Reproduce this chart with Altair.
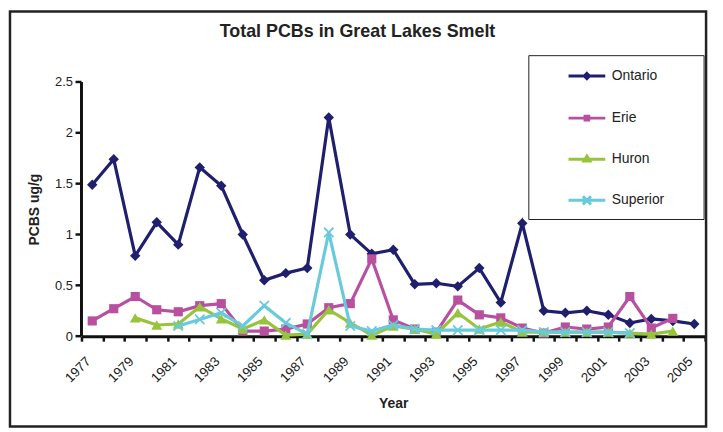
import altair as alt
import pandas as pd

years = list(range(1977, 2006))
lakes = ["Ontario", "Erie", "Huron", "Superior"]
ontario = [1.49, 1.74, 0.79, 1.12, 0.90, 1.66, 1.48, 1.00, 0.55, 0.62, 0.67, 2.15, 1.00, 0.81, 0.85,
           0.51, 0.52, 0.49, 0.67, 0.33, 1.11, 0.25, 0.23, 0.25, 0.21, 0.13, 0.17, 0.15, 0.12]
erie = [0.15, 0.27, 0.39, 0.26, 0.24, 0.30, 0.32, 0.05, 0.05, 0.07, 0.12, 0.28, 0.32, 0.76, 0.16,
        0.07, 0.04, 0.355, 0.21, 0.18, 0.08, 0.03, 0.09, 0.07, 0.09, 0.39, 0.08, 0.175, None]
huron = [None, None, 0.18, 0.11, 0.12, 0.29, 0.17, 0.07, 0.16, 0.01, 0.02, 0.26, 0.13, 0.01, 0.10,
         0.07, 0.02, 0.23, 0.07, 0.14, 0.04, 0.04, 0.04, 0.04, 0.04, 0.03, 0.02, 0.05, None]
superior = [None, None, None, None, 0.10, 0.165, 0.23, 0.10, 0.30, 0.13, 0.02, 1.02, 0.10, 0.05, 0.11,
            0.07, 0.06, 0.06, 0.06, 0.06, 0.06, 0.04, 0.04, 0.04, 0.04, 0.03, None, None, None]
colors = ["#1f1f6e", "#b8509f", "#98c43c", "#68cadb"]
y_ticks = [0, 0.5, 1, 1.5, 2, 2.5]
label_years = list(range(1977, 2006, 2))

series = {"Ontario": ontario, "Erie": erie, "Huron": huron, "Superior": superior}
rows = []
for lake in lakes:
    for yr, v in zip(years, series[lake]):
        if v is not None:
            rows.append({"Year": yr, "Value": v, "Lake": lake})
df = pd.DataFrame(rows)

FONT = "Liberation Sans"
W, H = 628, 256

xscale = alt.Scale(domain=[1976.5, 2005.5], nice=False, zero=False)
yscale = alt.Scale(domain=[0, 2.5], nice=False)
cscale = alt.Scale(domain=lakes, range=colors)

# tick marks sit between the years (category boundaries); labels on odd years
tick_axis = alt.Axis(orient="bottom", values=[y - 0.5 for y in years] + [2005.5],
                     labels=False, ticks=True, tickSize=5, tickWidth=2.5, tickColor="#111",
                     domain=True, domainWidth=3, domainColor="#111", grid=False, title=None)
label_axis = alt.Axis(orient="bottom", values=label_years, ticks=False, domain=False, grid=False,
                      labelAngle=315, labelAlign="right", labelBaseline="top",
                      labelPadding=18, labelOffset=-9, labelFontSize=13.5, labelFont=FONT,
                      labelColor="#222", labelOverlap=False, labelFlush=False, labelBound=False,
                      format="d", title="Year", titleFont=FONT, titleFontSize=14,
                      titleFontWeight="bold", titleColor="#222", titleY=68,
                      titleBaseline="middle")
y_label_axis = alt.Axis(orient="left", values=y_ticks, format="~g", domain=False, ticks=False,
                        grid=False, labelFontSize=13, labelFont=FONT, labelColor="#222",
                        labelPadding=9, title="PCBS ug/g", titleFont=FONT, titleFontSize=14,
                        titleFontWeight="bold", titleColor="#222", titleX=-47,
                        titleBaseline="middle")

shape_marks = {
    "Ontario": dict(shape="diamond", size=110, filled=True),
    "Erie": dict(shape="square", size=85, filled=True),
    "Huron": dict(shape="triangle-up", size=120, filled=True),
    "Superior": dict(shape="M-1,-1L1,1M-1,1L1,-1", size=90, filled=False, strokeWidth=1.8),
}

base = alt.Chart(df)
layers = []
for i, lake in enumerate(lakes):
    sub = base.transform_filter(alt.datum.Lake == lake)
    line = sub.mark_line(strokeWidth=3.2, color=colors[i]).encode(
        x=alt.X("Year:Q", scale=xscale, axis=tick_axis if i == 0 else None),
        y=alt.Y("Value:Q", scale=yscale, axis=None),
    )
    pts = sub.mark_point(opacity=1, color=colors[i], **shape_marks[lake]).encode(
        x=alt.X("Year:Q", scale=xscale, axis=label_axis if i == 0 else None),
        y=alt.Y("Value:Q", scale=yscale, axis=y_label_axis if i == 0 else None),
    )
    layers += [line, pts]

# y axis line and its tick marks, placed through the y scale
ytick_df = pd.DataFrame({"v": y_ticks})
y_domain_line = alt.Chart(ytick_df).mark_rule(color="#111", strokeWidth=3).encode(
    x=alt.value(0),
    y=alt.Y("min(v):Q", scale=yscale, axis=None),
    y2=alt.Y2("max(v):Q"),
)
y_tick_marks = alt.Chart(ytick_df).mark_rule(color="#111", strokeWidth=2.5).encode(
    x=alt.value(-6), x2=alt.value(0),
    y=alt.Y("v:Q", scale=yscale, axis=None),
)

legend_paths = [
    "M-1,0H1M0,-0.14L0.14,0L0,0.14L-0.14,0Z",
    "M-1,0H1M-0.1,-0.1H0.1V0.1H-0.1Z",
    "M-1,0H1M0,-0.17L0.16,0.1H-0.16Z",
    "M-1,0H1M-0.22,-0.22L0.22,0.22M-0.22,0.22L0.22,-0.22",
]
legend_layer = base.transform_filter("false").mark_point(filled=False, opacity=1).encode(
    x=alt.X("Year:Q", scale=xscale, axis=None),
    y=alt.Y("Value:Q", scale=yscale, axis=None),
    color=alt.Color("Lake:N", scale=cscale,
                    legend=alt.Legend(title=None, orient="none", legendX=453, legendY=-30,
                                      padding=4, symbolOffset=32, labelOffset=5,
                                      rowPadding=13.4, symbolSize=1369, symbolStrokeWidth=3,
                                      labelFont=FONT, labelFontSize=14, labelColor="#222",
                                      labelLimit=400, strokeColor="transparent")),
    shape=alt.Shape("Lake:N", scale=alt.Scale(domain=lakes, range=legend_paths)),
)

one = pd.DataFrame({"k": [0]})
frame = alt.Chart(one).mark_rect(
    fillOpacity=0, stroke="#222", strokeWidth=2.5
).encode(x=alt.value(-72), x2=alt.value(629), y=alt.value(-71), y2=alt.value(347))
legend_box = alt.Chart(one).mark_rect(
    fill="white", stroke="#222", strokeWidth=1
).encode(x=alt.value(450.5), x2=alt.value(627), y=alt.value(-26.5), y2=alt.value(138.5))

chart = alt.layer(frame, legend_box, *layers, y_domain_line, y_tick_marks,
                  legend_layer).resolve_axis(
    x="independent", y="independent"
).properties(
    width=W, height=H, background="white",
    autosize=alt.AutoSizeParams(type="none"),
    padding={"left": 74, "top": 73, "right": 10, "bottom": 94},
    title=alt.TitleParams("Total PCBs in Great Lakes Smelt", font=FONT, fontSize=18,
                          fontWeight="bold", color="#222", anchor="middle", dx=-36,
                          offset=-31),
).configure_view(stroke=None)

chart.save("out.html", embed_options={"renderer": "svg", "actions": False})
